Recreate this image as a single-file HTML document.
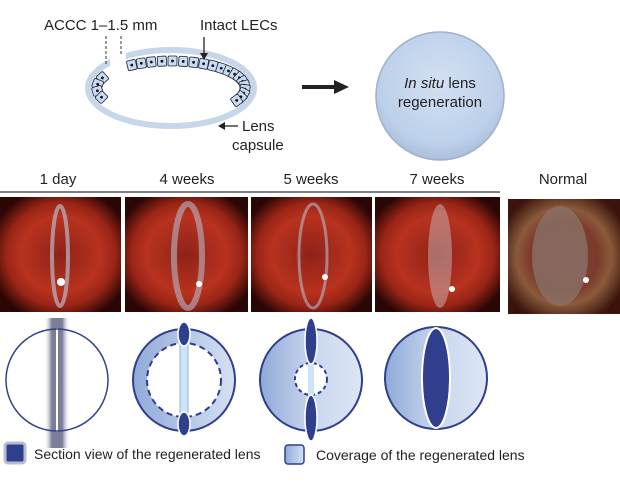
<!DOCTYPE html>
<html><head><meta charset="utf-8"><style>
body{margin:0;background:#fff;width:620px;height:479px;overflow:hidden;font-family:"Liberation Sans",sans-serif}
</style></head><body>
<svg id="s" width="620" height="479" viewBox="0 0 620 479" xmlns="http://www.w3.org/2000/svg" font-family="Liberation Sans, sans-serif">
<defs>
<radialGradient id="bc" cx="50%" cy="40%" r="60%"><stop offset="0" stop-color="#d3e0f2"/><stop offset="0.8" stop-color="#bcd0ea"/><stop offset="1" stop-color="#a9bedb"/></radialGradient>
<radialGradient id="ph" cx="50%" cy="50%" r="60%"><stop offset="0" stop-color="#8e2218"/><stop offset="0.55" stop-color="#b8321e"/><stop offset="0.75" stop-color="#9a2516"/><stop offset="1" stop-color="#2a0605"/></radialGradient>
<radialGradient id="phn" cx="50%" cy="50%" r="60%"><stop offset="0" stop-color="#7a4a3e"/><stop offset="0.5" stop-color="#7d3a2c"/><stop offset="0.7" stop-color="#8a5a3a"/><stop offset="1" stop-color="#3a140c"/></radialGradient>
<linearGradient id="cov" x1="0" x2="1"><stop offset="0" stop-color="#8fa9d8"/><stop offset="0.5" stop-color="#c8d6ee"/><stop offset="1" stop-color="#dde6f4"/></linearGradient>
<linearGradient id="covL" x1="0" x2="1"><stop offset="0" stop-color="#90aad9"/><stop offset="1" stop-color="#d6e1f2"/></linearGradient>
<linearGradient id="gr" x1="0" x2="1"><stop offset="0" stop-color="#fff" stop-opacity="0"/><stop offset="0.3" stop-color="#7a7e99"/><stop offset="0.7" stop-color="#7a7e99"/><stop offset="1" stop-color="#fff" stop-opacity="0"/></linearGradient>
</defs>
<!-- top diagram -->
<text x="44" y="30" font-size="15" fill="#222">ACCC 1–1.5 mm</text>
<text x="200" y="30" font-size="15" fill="#222">Intact LECs</text>
<ellipse cx="171" cy="88" rx="83" ry="38" fill="none" stroke="#c8d6ea" stroke-width="6"/>
<rect x="110" y="45" width="16" height="20" fill="#fff"/>
<line x1="106" y1="36" x2="106" y2="64" stroke="#333" stroke-dasharray="3,2"/>
<line x1="121" y1="36" x2="121" y2="54" stroke="#333" stroke-dasharray="3,2"/>
<g id="cells"></g>
<line x1="204" y1="37" x2="204" y2="56" stroke="#222" stroke-width="1.3"/>
<path d="M200 53 L204 60 L208 53Z" fill="#222"/>
<line x1="238" y1="126" x2="222" y2="126" stroke="#222" stroke-width="1.3"/>
<path d="M225 122 L218 126 L225 130Z" fill="#222"/>
<text x="242" y="131" font-size="15" fill="#222">Lens</text>
<text x="232" y="150" font-size="15" fill="#222">capsule</text>
<line x1="302" y1="87" x2="336" y2="87" stroke="#222" stroke-width="4"/>
<path d="M334 80 L349 87 L334 94Z" fill="#222"/>
<circle cx="440" cy="96" r="64" fill="url(#bc)" stroke="#9fb2cf" stroke-width="1.5"/>
<text x="440" y="88" font-size="15" fill="#222" text-anchor="middle"><tspan font-style="italic">In situ</tspan> lens</text>
<text x="440" y="107" font-size="15" fill="#222" text-anchor="middle">regeneration</text>
<!-- labels -->
<text x="58" y="184" font-size="15" fill="#222" text-anchor="middle">1 day</text>
<text x="187" y="184" font-size="15" fill="#222" text-anchor="middle">4 weeks</text>
<text x="311" y="184" font-size="15" fill="#222" text-anchor="middle">5 weeks</text>
<text x="437" y="184" font-size="15" fill="#222" text-anchor="middle">7 weeks</text>
<text x="563" y="184" font-size="15" fill="#222" text-anchor="middle">Normal</text>
<line x1="0" y1="192" x2="500" y2="192" stroke="#333" stroke-width="1.2"/>
<!-- photos -->
<g>
<rect x="0" y="197" width="121" height="115" fill="url(#ph)"/>
<rect x="125" y="197" width="123" height="115" fill="url(#ph)"/>
<rect x="251" y="197" width="121" height="115" fill="url(#ph)"/>
<rect x="375" y="197" width="125" height="115" fill="url(#ph)"/>
<rect x="508" y="199" width="112" height="115" fill="url(#phn)"/>
<ellipse cx="60" cy="256" rx="8" ry="50" fill="none" stroke="#b8b8c8" stroke-width="4" opacity="0.7"/>
<ellipse cx="188" cy="256" rx="14" ry="52" fill="none" stroke="#b8b8c8" stroke-width="6" opacity="0.6"/>
<ellipse cx="313" cy="256" rx="14" ry="52" fill="none" stroke="#b8b8c8" stroke-width="3" opacity="0.6"/>
<ellipse cx="440" cy="256" rx="12" ry="52" fill="#c8b8b8" opacity="0.5"/>
<ellipse cx="560" cy="256" rx="28" ry="50" fill="#8a7068" opacity="0.8"/>
<circle cx="61" cy="282" r="4" fill="#fff"/><circle cx="199" cy="284" r="3" fill="#fff"/><circle cx="325" cy="277" r="3" fill="#fff"/><circle cx="452" cy="289" r="3" fill="#fff"/><circle cx="586" cy="280" r="3" fill="#fff"/>
</g>
<!-- bottom circles -->
<circle cx="57" cy="380" r="51" fill="#fff"/>
<rect x="44" y="318" width="26" height="130" fill="url(#gr)"/>
<line x1="57" y1="328" x2="57" y2="432" stroke="#fff" stroke-width="2"/>
<circle cx="57" cy="380" r="51" fill="none" stroke="#33418a" stroke-width="1.5"/>

<circle cx="184" cy="380" r="51" fill="url(#covL)" stroke="#2f3f8e" stroke-width="2"/>
<circle cx="184" cy="380" r="37" fill="#fff" stroke="#2f3f8e" stroke-width="2" stroke-dasharray="6,4"/>
<rect x="180" y="340" width="8" height="80" fill="#cfe3f6" stroke="#8cb8e0"/>
<ellipse cx="184" cy="334" rx="6" ry="12" fill="#2f3f8e" stroke="#fff" stroke-width="1.5"/>
<ellipse cx="184" cy="424" rx="6" ry="12" fill="#2f3f8e" stroke="#fff" stroke-width="1.5"/>

<circle cx="311" cy="380" r="51" fill="url(#cov)" stroke="#2f3f8e" stroke-width="2"/>
<circle cx="311" cy="379" r="16" fill="#fff" stroke="#2f3f8e" stroke-width="2" stroke-dasharray="4,3"/>
<rect x="308" y="363" width="6" height="32" fill="#cfe3f6"/>
<ellipse cx="311" cy="341" rx="6" ry="23" fill="#2f3f8e" stroke="#fff" stroke-width="1.5"/>
<ellipse cx="311" cy="418" rx="6" ry="23" fill="#2f3f8e" stroke="#fff" stroke-width="1.5"/>

<circle cx="436" cy="378" r="51" fill="url(#cov)" stroke="#2f3f8e" stroke-width="2"/>
<ellipse cx="436" cy="378" rx="14" ry="50" fill="#2f3f8e" stroke="#fff" stroke-width="2"/>
<!-- legend -->
<rect x="5" y="443" width="20" height="20" rx="3" fill="#2f3f8e" stroke="#b8bcd0" stroke-width="3"/>
<text x="34" y="459" font-size="14" fill="#222">Section view of the regenerated lens</text>
<rect x="285" y="445" width="19" height="19" rx="3" fill="url(#covL)" stroke="#2f3f8e" stroke-width="1.5"/>
<text x="316" y="460" font-size="14" fill="#222">Coverage of the regenerated lens</text>
</svg>
<script>
var g=document.getElementById('cells'),h='';
function cell(t){var a=t*Math.PI/180,x=171+74*Math.cos(a),y=88-27*Math.sin(a);
var nx=Math.cos(a)/74,ny=-Math.sin(a)/27;
var rot=Math.atan2(nx,-ny)*180/Math.PI;
h+='<g transform="translate('+x.toFixed(1)+','+y.toFixed(1)+') rotate('+rot.toFixed(1)+')"><rect x="-4.5" y="-5" width="9" height="10" rx="1.5" fill="#c7dbf2" stroke="#223" stroke-width="0.8"/><circle r="1.4" fill="#111"/></g>';}
for(var t=122;t>=-28;t-=8.3)cell(t);
for(var t=158;t<=200;t+=14)cell(t);
g.innerHTML=h;
</script>
</body></html>
